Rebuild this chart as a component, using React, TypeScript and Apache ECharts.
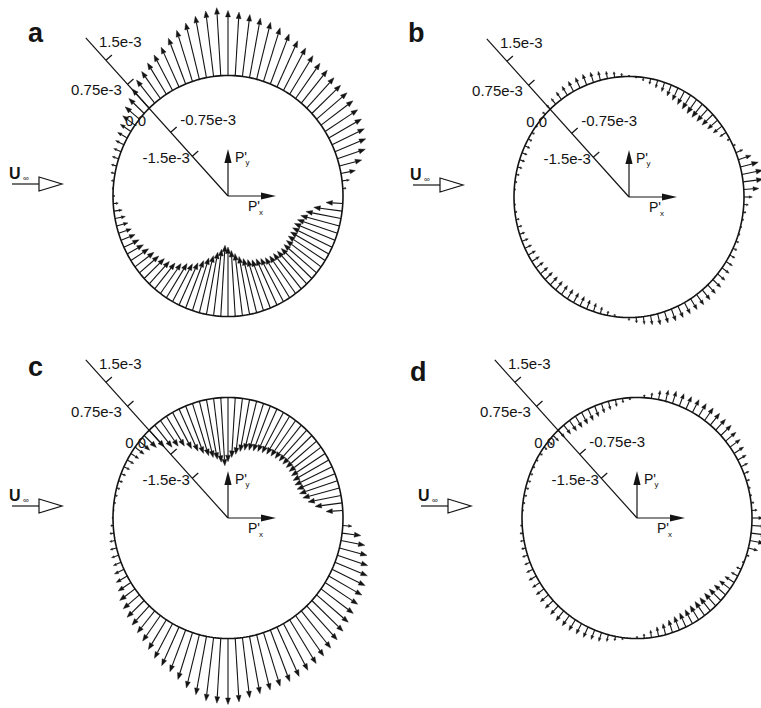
import React, { useEffect, useRef } from "react";
import * as echarts from "echarts";

const INK = "#141414";
const FONT = "'Liberation Sans', Arial, Helvetica, sans-serif";

// Surface stations, evenly spaced, starting at the rear point (theta = 0) and running anticlockwise.
const STATION_STEP_DEG = 3.6;

// Fluctuating surface pressure P' at each station, in units of 1e-3.
const PRESSURE_A = [
  0.0, 0.08, 0.18, 0.35, 0.55, 0.7, 0.79, 0.85, 0.89, 0.92,
  0.94, 0.94, 0.94, 0.95, 0.97, 0.99, 1.04, 1.1, 1.16, 1.22,
  1.28, 1.34, 1.38, 1.42, 1.45, 1.48, 1.55, 1.5, 1.42, 1.32,
  1.22, 1.12, 1.0, 0.92, 0.84, 0.76, 0.68, 0.6, 0.5, 0.44,
  0.36, 0.3, 0.26, 0.22, 0.19, 0.16, 0.13, 0.1, 0.06, 0.02,
  -0.04, -0.12, -0.2, -0.25, -0.28, -0.32, -0.36, -0.4, -0.44, -0.5,
  -0.56, -0.6, -0.66, -0.7, -0.76, -0.84, -0.92, -0.98, -1.06, -1.16,
  -1.26, -1.34, -1.44, -1.52, -1.62, -1.58, -1.5, -1.42, -1.34, -1.27,
  -1.22, -1.18, -1.16, -1.12, -1.08, -1.05, -1.04, -1.02, -1.0, -1.01,
  -1.02, -1.04, -1.04, -1.04, -1.04, -1.0, -0.95, -0.85, -0.68, -0.4,
];

const PRESSURE_B = [
  0.2, 0.36, 0.48, 0.5, 0.44, 0.32, 0.18, 0.06, -0.07, -0.18,
  -0.26, -0.31, -0.35, -0.38, -0.39, -0.39, -0.37, -0.34, -0.31, -0.27,
  -0.22, -0.18, -0.13, -0.08, -0.03, 0.03, 0.08, 0.13, 0.17, 0.21,
  0.24, 0.26, 0.26, 0.26, 0.24, 0.21, 0.17, 0.13, 0.08, 0.03,
  -0.03, -0.07, -0.1, -0.13, -0.13, -0.13, -0.11, -0.08, -0.05, -0.03,
  0.0, -0.03, -0.05, -0.08, -0.11, -0.13, -0.16, -0.18, -0.2, -0.21,
  -0.22, -0.23, -0.24, -0.25, -0.25, -0.25, -0.25, -0.25, -0.24, -0.22,
  -0.2, -0.16, -0.1, -0.05, 0.0, 0.07, 0.13, 0.18, 0.22, 0.26,
  0.27, 0.29, 0.29, 0.29, 0.29, 0.29, 0.29, 0.27, 0.26, 0.23,
  0.21, 0.18, 0.14, 0.1, 0.07, 0.04, 0.03, 0.04, 0.07, 0.11,
];

const PRESSURE_C = [
  0.0, -0.4, -0.65, -0.8, -0.9, -0.95, -0.97, -0.98, -0.97, -0.95,
  -0.94, -0.94, -0.95, -0.96, -0.98, -1.0, -1.02, -1.05, -1.07, -1.1,
  -1.12, -1.15, -1.2, -1.28, -1.36, -1.46, -1.55, -1.46, -1.38, -1.32,
  -1.25, -1.16, -1.06, -0.94, -0.8, -0.72, -0.65, -0.52, -0.4, -0.32,
  -0.27, -0.22, -0.18, -0.15, -0.12, -0.1, -0.08, -0.06, -0.04, -0.02,
  0.02, 0.06, 0.1, 0.13, 0.16, 0.18, 0.2, 0.25, 0.3, 0.36,
  0.45, 0.5, 0.56, 0.6, 0.65, 0.72, 0.8, 0.9, 0.97, 1.02,
  1.12, 1.25, 1.35, 1.45, 1.48, 1.5, 1.45, 1.38, 1.33, 1.3,
  1.28, 1.26, 1.24, 1.21, 1.18, 1.14, 1.1, 1.06, 1.02, 0.98,
  0.95, 0.92, 0.9, 0.87, 0.83, 0.76, 0.68, 0.58, 0.45, 0.22,
];

const PRESSURE_D = [
  0.26, 0.13, 0.07, 0.04, 0.05, 0.08, 0.13, 0.18, 0.23, 0.27,
  0.3, 0.32, 0.34, 0.34, 0.35, 0.35, 0.34, 0.33, 0.31, 0.3,
  0.29, 0.26, 0.21, 0.13, 0.07, 0.0, -0.05, -0.1, -0.16, -0.2,
  -0.23, -0.26, -0.29, -0.3, -0.3, -0.29, -0.26, -0.22, -0.18, -0.13,
  -0.09, -0.07, -0.05, -0.05, -0.07, -0.08, -0.08, -0.07, -0.05, -0.03,
  0.0, 0.04, 0.07, 0.09, 0.1, 0.13, 0.14, 0.17, 0.2, 0.21,
  0.23, 0.25, 0.26, 0.27, 0.29, 0.29, 0.29, 0.27, 0.26, 0.23,
  0.21, 0.16, 0.1, 0.05, 0.0, -0.05, -0.1, -0.17, -0.22, -0.26,
  -0.3, -0.33, -0.35, -0.36, -0.38, -0.39, -0.39, -0.39, -0.38, -0.35,
  -0.31, -0.26, -0.18, -0.12, -0.04, 0.07, 0.23, 0.34, 0.39, 0.36,
];

const PANEL_LETTERS = ["a", "b", "c", "d"];
const PANEL_PRESSURE = [PRESSURE_A, PRESSURE_B, PRESSURE_C, PRESSURE_D];

// Scale drawn along the diagonal, in units of 1e-3 (zero sits on the cylinder wall).
const SCALE_TICKS = [-1.5, -0.75, 0, 0.75, 1.5];
const SCALE_LABELS = ["-1.5e-3", "-0.75e-3", "0.0", "0.75e-3", "1.5e-3"];
const SCALE_END = 2.2;

// Geometry: data units are cylinder radii; a P' of 1e-3 is drawn VEC_GAIN radii long.
const VEC_GAIN = 0.365;
const SCALE_DIR_DEG = 133.3;
const PX_PER_R_X = 115;
const PX_PER_R_Y = 120.5;
const X_MIN = -1.9;
const X_MAX = 1.05;
const Y_MIN = -1.55;
const Y_MAX = 1.6;

const PANEL_LAYOUT = [
  { cx: 228, cy: 196, letterX: 28, letterY: 33, hideLabels: [] as number[] },
  { cx: 629, cy: 197, letterX: 408, letterY: 33, hideLabels: [] as number[] },
  { cx: 228, cy: 518, letterX: 28, letterY: 367, hideLabels: [-0.75] },
  { cx: 637, cy: 518, letterX: 410, letterY: 372, hideLabels: [] as number[] },
];

// Label placement next to each scale tick, in pixels.
const LABEL_PLACEMENT = [
  { dx: -2.4, dy: 1, align: "right" },
  { dx: 9.5, dy: -13, align: "left" },
  { dx: -3, dy: 11.7, align: "right" },
  { dx: -5.6, dy: 5.5, align: "right" },
  { dx: -7, dy: -19, align: "left" },
];

function txt(x: number, y: number, text: string, size: number, align = "left", weight = "normal") {
  return {
    type: "text",
    x,
    y,
    style: {
      text,
      fill: INK,
      fontSize: size,
      fontFamily: FONT,
      fontWeight: weight,
      align,
      verticalAlign: "middle",
    },
  };
}

function seg(x1: number, y1: number, x2: number, y2: number, w = 1) {
  return { type: "line", shape: { x1, y1, x2, y2 }, style: { stroke: INK, lineWidth: w } };
}

function frameRenderer(panel: number) {
  const layout = PANEL_LAYOUT[panel];
  return (_params: any, api: any) => {
    const children: any[] = [];
    // cylinder wall
    const ring: number[][] = [];
    for (let k = 0; k <= 240; k++) {
      const a = (k / 240) * Math.PI * 2;
      ring.push(api.coord([Math.cos(a), Math.sin(a)]));
    }
    children.push({ type: "polyline", shape: { points: ring }, style: { stroke: INK, lineWidth: 1.6, fill: null } });

    // diagonal pressure scale
    const phi = (SCALE_DIR_DEG * Math.PI) / 180;
    const at = (p: number) => {
      const r = 1 + VEC_GAIN * p;
      return api.coord([r * Math.cos(phi), r * Math.sin(phi)]);
    };
    const o = api.coord([0, 0]);
    const end = at(SCALE_END);
    children.push(seg(o[0], o[1], end[0], end[1], 1.2));
    const L = Math.hypot(end[0] - o[0], end[1] - o[1]);
    const ux = (end[0] - o[0]) / L;
    const uy = (end[1] - o[1]) / L;
    const nx = -uy;
    const ny = ux;
    SCALE_TICKS.forEach((t, k) => {
      const q = at(t);
      if (t !== 0) children.push(seg(q[0], q[1], q[0] + nx * 8, q[1] + ny * 8, 1.2));
      if (layout.hideLabels.indexOf(t) < 0) {
        const pl = LABEL_PLACEMENT[k];
        children.push(txt(q[0] + pl.dx, q[1] + pl.dy, SCALE_LABELS[k], 15, pl.align));
      }
    });

    // P'x / P'y reference axes
    const px = o[0];
    const py = o[1];
    children.push(seg(px, py, px, py - 34, 1.2));
    children.push({ type: "polygon", shape: { points: [[px, py - 47], [px - 3.6, py - 33], [px + 3.6, py - 33]] }, style: { fill: INK } });
    children.push(seg(px, py, px + 34, py, 1.2));
    children.push({ type: "polygon", shape: { points: [[px + 48, py], [px + 33, py - 3.6], [px + 33, py + 3.6]] }, style: { fill: INK } });
    children.push(txt(px + 7, py - 39, "P'", 14));
    children.push(txt(px + 17.5, py - 34, "y", 8));
    children.push(txt(px + 20, py + 10, "P'", 14));
    children.push(txt(px + 31, py + 16.5, "x", 8));

    // free-stream arrow
    children.push(seg(px - 216, py - 12, px - 189, py - 12, 1.2));
    children.push({
      type: "polygon",
      shape: { points: [[px - 189, py - 19], [px - 166, py - 12], [px - 189, py - 5]] },
      style: { stroke: INK, lineWidth: 1.2, fill: "#fff" },
    });
    children.push(txt(px - 219, py - 23, "U", 16, "left", "bold"));
    children.push(txt(px - 205, py - 18, "∞", 8));
    return { type: "group", children };
  };
}

function arrowRenderer(_params: any, api: any) {
  const th = (api.value(0) * Math.PI) / 180;
  const p = api.value(1);
  const c = Math.cos(th);
  const s = Math.sin(th);
  const base = api.coord([c, s]);
  const r = 1 + VEC_GAIN * p;
  const tip = api.coord([r * c, r * s]);
  const dx = tip[0] - base[0];
  const dy = tip[1] - base[1];
  const len = Math.hypot(dx, dy);
  if (len < 0.8) return { type: "group", children: [] };
  const ux = dx / len;
  const uy = dy / len;
  const hl = Math.min(6.5, len * 0.38);
  const hw = Math.max(1.1, hl * 0.38);
  const bx = tip[0] - ux * hl;
  const by = tip[1] - uy * hl;
  return {
    type: "group",
    children: [
      seg(base[0], base[1], bx, by, 1.1),
      {
        type: "polygon",
        shape: { points: [[tip[0], tip[1]], [bx - uy * hw, by + ux * hw], [bx + uy * hw, by - ux * hw]] },
        style: { fill: INK, stroke: INK, lineWidth: 0.4 },
      },
    ],
  };
}

export default function App() {
  const ref = useRef<HTMLDivElement>(null);
  useEffect(() => {
    if (!ref.current) return;
    const chart = echarts.init(ref.current, undefined, { renderer: "svg" });
    const grids = PANEL_LAYOUT.map((L) => ({
      left: L.cx + X_MIN * PX_PER_R_X,
      top: L.cy - Y_MAX * PX_PER_R_Y,
      width: (X_MAX - X_MIN) * PX_PER_R_X,
      height: (Y_MAX - Y_MIN) * PX_PER_R_Y,
      show: false,
    }));
    const series: any[] = [];
    PANEL_LAYOUT.forEach((_L, i) => {
      series.push({
        type: "custom",
        coordinateSystem: "cartesian2d",
        xAxisIndex: i,
        yAxisIndex: i,
        silent: true,
        data: [[0, 0]],
        renderItem: frameRenderer(i),
      });
      series.push({
        type: "custom",
        coordinateSystem: "cartesian2d",
        xAxisIndex: i,
        yAxisIndex: i,
        silent: true,
        data: PANEL_PRESSURE[i].map((p, k) => [k * STATION_STEP_DEG, p]),
        renderItem: arrowRenderer,
      });
    });
    chart.setOption({
      animation: false,
      backgroundColor: "#ffffff",
      grid: grids,
      xAxis: PANEL_LAYOUT.map((_L, i) => ({ type: "value", gridIndex: i, min: X_MIN, max: X_MAX, show: false })),
      yAxis: PANEL_LAYOUT.map((_L, i) => ({ type: "value", gridIndex: i, min: Y_MIN, max: Y_MAX, show: false })),
      graphic: PANEL_LAYOUT.map((L, i) => ({
        type: "text",
        x: L.letterX,
        y: L.letterY,
        style: {
          text: PANEL_LETTERS[i],
          fill: INK,
          fontSize: 27,
          fontWeight: "bold",
          fontFamily: FONT,
          verticalAlign: "middle",
        },
      })),
      series,
    });
    return () => chart.dispose();
  }, []);
  return (
    <div
      ref={ref}
      style={{ position: "absolute", left: 0, top: 0, width: 761, height: 708, background: "#fff" }}
    />
  );
}
